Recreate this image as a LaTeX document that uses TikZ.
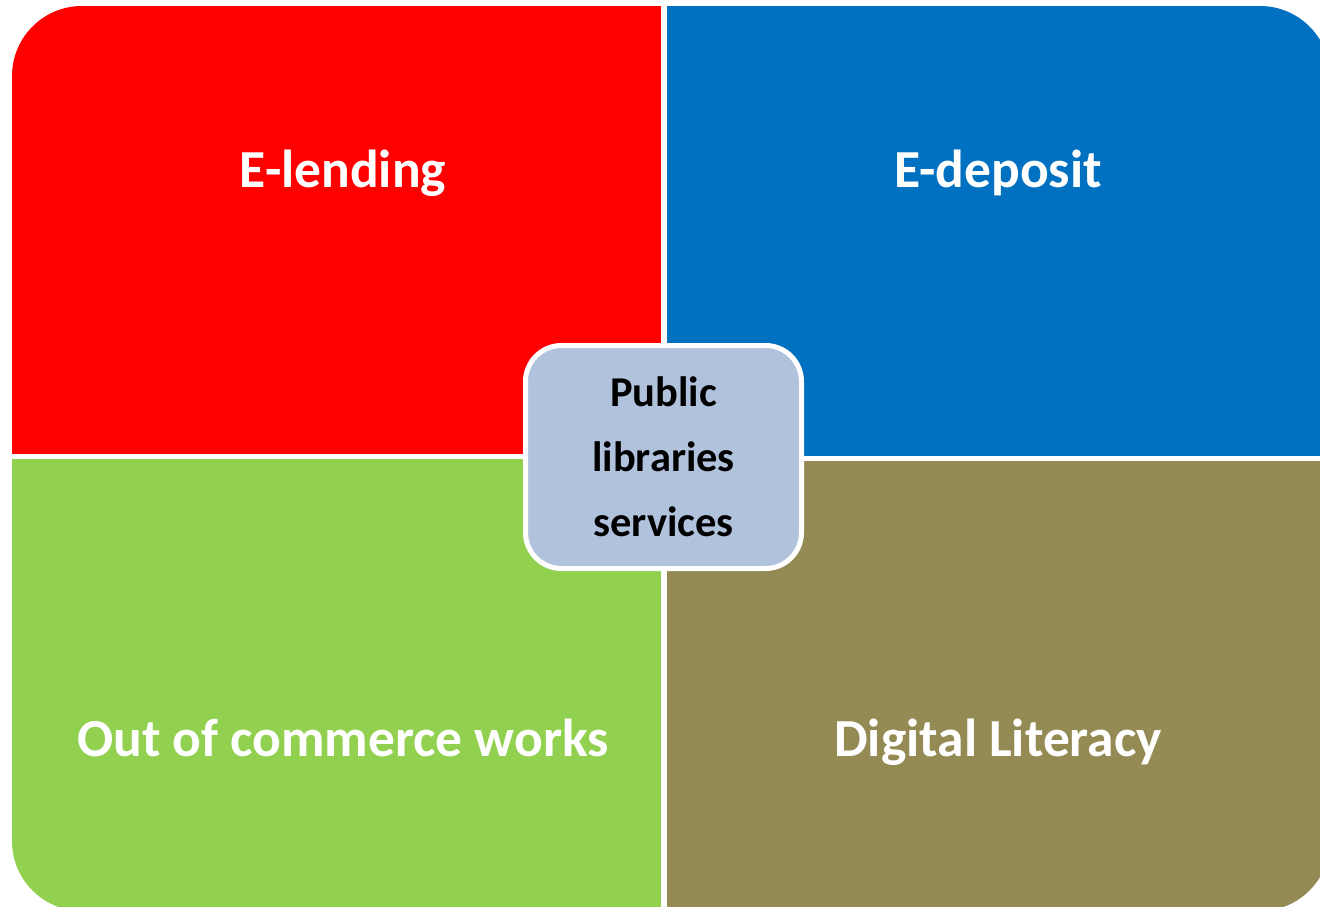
\documentclass[tikz,border=0pt]{standalone}
\usepackage{fontspec}
\setmainfont{Carlito}
\definecolor{qred}{HTML}{FF0000}
\definecolor{qblue}{HTML}{0070C0}
\definecolor{qgreen}{HTML}{92D050}
\definecolor{qolive}{HTML}{948A54}
\definecolor{qcenter}{HTML}{B1C2DD}
\tikzset{
  quadlabel/.style={text=white, font=\bfseries\fontsize{53.5}{62}\selectfont, inner sep=0pt, anchor=base},
  centerbox/.style={draw=white, line width=5pt, fill=qcenter, rounded corners=36pt,
    minimum width=276pt, minimum height=223pt, align=center, inner sep=0pt,
    font=\bfseries\fontsize{42.5}{65}\selectfont, text=black}
}
\begin{document}
\begin{tikzpicture}[x=1pt,y=-1pt]
\useasboundingbox (0,0) rectangle (1320,907);
\begin{scope}
\clip[rounded corners=70pt] (12,6) rectangle (1330,911);
\fill[qred] (12,6) rectangle (661,454);
\fill[qblue] (667,6) rectangle (1330,456);
\fill[qgreen] (12,459) rectangle (661,911);
\fill[qolive] (667,461) rectangle (1330,911);
\end{scope}
\node[quadlabel] (lend) at (343,187) {E-lending};
\node[quadlabel] (depo) at (998,187) {E-deposit};
\node[quadlabel] (outc) at (343,756) {Out of commerce works};
\node[quadlabel] (digi) at (998,756) {Digital Literacy};
\node[centerbox] (pls) at (663.5,457) {Public\\libraries\\services};
\end{tikzpicture}
\end{document}
